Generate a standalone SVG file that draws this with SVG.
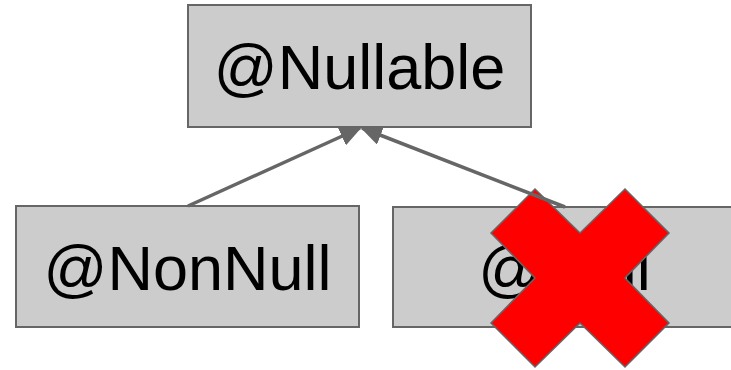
<svg xmlns="http://www.w3.org/2000/svg" width="731" height="370" viewBox="0 0 731 370">
  <style>
    .box { fill: #cccccc; stroke: #666666; stroke-width: 2; }
    .label { font-family: "Liberation Sans", Arial, sans-serif; font-size: 63px; fill: #000000; text-anchor: middle; }
    .edge { stroke: #666666; stroke-width: 3.5; fill: none; marker-end: url(#head); }
    .cross { fill: #ff0000; stroke: #666666; stroke-width: 1.5; stroke-linejoin: miter; }
  </style>
  <defs>
    <marker id="head" markerUnits="userSpaceOnUse" viewBox="0 0 22 20" refX="20" refY="10" markerWidth="22" markerHeight="20" orient="auto">
      <path d="M0,0 L22,10 L0,20 z" fill="#666666"/>
    </marker>
  </defs>

  <rect width="731" height="370" fill="#ffffff"/>

  <g id="nullable">
    <rect class="box" x="188" y="5" width="343" height="122"/>
    <text class="label" x="359.5" y="89">@Nullable</text>
  </g>

  <g id="nonnull">
    <rect class="box" x="16" y="206" width="343" height="121"/>
    <text class="label" x="187.5" y="290">@NonNull</text>
  </g>

  <g id="null">
    <rect class="box" x="393" y="207" width="343" height="120"/>
    <text class="label" x="564.5" y="290">@Null</text>
  </g>

  <!-- red cross over the rejected annotation -->
  <g id="reject">
    <polygon class="cross" points="535,189 580,233 625,189 669,233 625,278 669,323 625,367 580,323 535,367 491,323 535,278 491,233"/>
  </g>

  <g id="connectors">
    <line class="edge" x1="188" y1="206" x2="360" y2="128"/>
    <line class="edge" x1="565" y1="207" x2="362" y2="128"/>
  </g>
</svg>
